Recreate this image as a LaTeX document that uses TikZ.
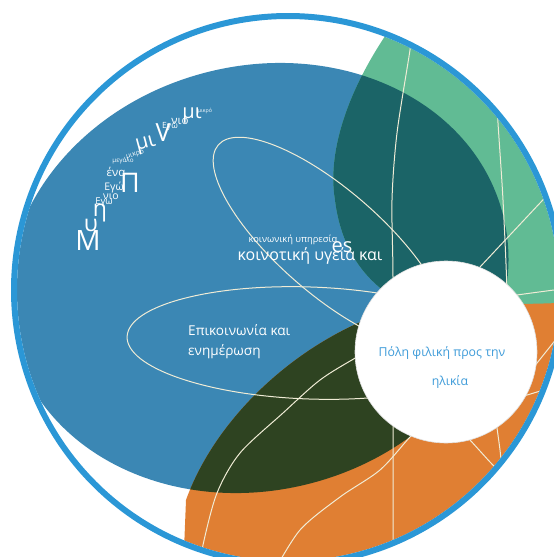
\documentclass[tikz,border=0pt]{standalone}
\usepackage{fontspec}
\setmainfont{Open Sans}
\usetikzlibrary{positioning}

\definecolor{ringblue}{RGB}{43,151,214}
\definecolor{bigblue}{RGB}{59,135,180}
\definecolor{leafgreen}{RGB}{97,187,148}
\definecolor{deepteal}{RGB}{27,100,103}
\definecolor{darkolive}{RGB}{46,67,33}
\definecolor{orangefill}{RGB}{224,127,51}
\definecolor{glowline}{RGB}{240,236,214}
\definecolor{citytext}{RGB}{61,155,217}

\tikzset{
  wline/.style={draw=glowline, line width=1pt},
  cloud/.style={text=white, inner sep=0pt},
  theme/.style={text=white, inner sep=0pt, font=\fontsize{13.6}{16}\selectfont},
}

\begin{document}
\begin{tikzpicture}[x=1pt, y=-1pt]
  \useasboundingbox (0,0) rectangle (554,557);
  \clip (0,0) rectangle (554,557);

  \begin{scope}
    \clip (288,290) circle [radius=271];
    % big blue leaf
    \fill[bigblue, rotate around={15:(258,278)}] (258,278) ellipse [x radius=253, y radius=212];
    % green leaf, teal where it meets the blue one
    \begin{scope}
      \clip (420,-10) .. controls (360,60) and (325,140) .. (335,200)
        .. controls (340,240) and (360,300) .. (450,320) -- (620,320) -- (620,-10) -- cycle;
      \fill[leafgreen] (0,0) rectangle (620,620);
      \fill[deepteal, rotate around={15:(258,278)}] (258,278) ellipse [x radius=253, y radius=212];
    \end{scope}
    % orange leaf, olive where it meets the blue one
    \begin{scope}
      \clip (182,600) -- (186,500) .. controls (215,420) and (290,350) .. (370,318)
        .. controls (430,295) and (500,310) .. (600,300) -- (620,620) -- cycle;
      \fill[orangefill] (0,0) rectangle (620,620);
      \fill[darkolive, rotate around={15:(258,278)}] (258,278) ellipse [x radius=253, y radius=212];
    \end{scope}

    % thin globe lines
    \draw[wline, rotate around={-41:(330,242)}] (330,242) ellipse [x radius=148, y radius=52];
    \draw[wline, rotate around={-2:(310,343)}] (310,343) ellipse [x radius=183, y radius=56];
    \draw[wline] plot[smooth] coordinates {(199,575) (203,545) (217,493) (240,453) (283,413) (320,380) (357,357) (400,333)};
    \draw[wline] plot[smooth] coordinates {(470,278) (480,267) (510,235) (540,203) (560,182)};
    \draw[wline] plot[smooth] coordinates {(272,575) (300,530) (340,497) (380,470) (410,437) (430,418)};
    \draw[wline] plot[smooth] coordinates {(412,30) (410,50) (397,133) (392,200) (393,277) (393,427) (393,560)};
    \draw[wline] plot[smooth] coordinates {(497,100) (498,123) (503,200) (507,293) (505,320)};
    \draw[wline] plot[smooth] coordinates {(495,415) (497,428) (500,450) (502,470)};
    \draw[wline] plot[smooth] coordinates {(460,430) (470,440) (490,462) (500,472)};
    \draw[wline] plot[smooth] coordinates {(525,378) (537,363) (553,343) (565,328)};
    \draw[wline] plot[smooth] coordinates {(515,398) (527,395) (537,392) (560,385)};
    \draw[wline] plot[smooth] coordinates {(500,298) (517,295) (554,290) (570,288)};
  \end{scope}

  % outer ring
  \draw[ringblue, line width=6pt] (288,290) circle [radius=274];

  % centre disc
  \node[circle, fill=white, draw=black!12, line width=0.6pt, minimum size=182pt] (hub) at (446,352) {};
  \node[text=citytext, font=\fontsize{12.3}{14}\selectfont] (hubA) at (442,353) {Πόλη φιλική προς την};
  \node[text=citytext, font=\fontsize{12.3}{14}\selectfont] (hubB) at (450,382) {ηλικία};

  % themes
  \node[theme, anchor=west] (commA) at (188,330) {Επικοινωνία και};
  \node[theme, anchor=west] (commB) at (188,352) {ενημέρωση};
  \node[theme, font=\fontsize{9.3}{11}\selectfont] (socA) at (293,240) {κοινωνική υπηρεσία};
  \node[theme, font=\fontsize{16}{18}\selectfont] (socB) at (310,256) {κοινοτική υγεία και};
  \node[theme, font=\fontsize{20}{21}\selectfont] (socC) at (342,247) {es};

  % scattered words
  \node[cloud, font=\fontsize{28}{28}\selectfont] (w1) at (88,241) {M};
  \node[cloud, font=\fontsize{23}{23}\selectfont] (w2) at (91,225) {υ};
  \node[cloud, font=\fontsize{23}{23}\selectfont] (w3) at (100,213) {η};
  \node[cloud, font=\fontsize{9.5}{9.5}\selectfont] (w4) at (104,202) {Εγω};
  \node[cloud, font=\fontsize{10.5}{10.5}\selectfont] (w5) at (111,197) {νιο};
  \node[cloud, font=\fontsize{10.5}{10.5}\selectfont] (w6) at (114,188) {Εγώ};
  \node[cloud, font=\fontsize{11.5}{11.5}\selectfont] (w7) at (116,172) {ένα};
  \node[cloud, font=\fontsize{27}{27}\selectfont] (w8) at (130,183) {Π};
  \node[cloud, font=\fontsize{6.3}{6.3}\selectfont] (w9) at (123,161) {μεγάλο};
  \node[cloud, font=\fontsize{6.8}{6.8}\selectfont, rotate=15] (w10) at (135,154) {μικρό};
  \node[cloud, font=\fontsize{21}{21}\selectfont, rotate=15] (w11) at (146,145) {μι};
  \node[cloud, font=\fontsize{25}{25}\selectfont] (w12) at (163,133) {V};
  \node[cloud, font=\fontsize{8.5}{8.5}\selectfont] (w13) at (170,126) {Εγώ};
  \node[cloud, font=\fontsize{11.5}{11.5}\selectfont] (w14) at (180,121) {νιο};
  \node[cloud, font=\fontsize{20}{20}\selectfont] (w15) at (192,116) {μι};
  \node[cloud, font=\fontsize{5.3}{5.3}\selectfont] (w16) at (205,111) {μικρό};
\end{tikzpicture}
\end{document}
